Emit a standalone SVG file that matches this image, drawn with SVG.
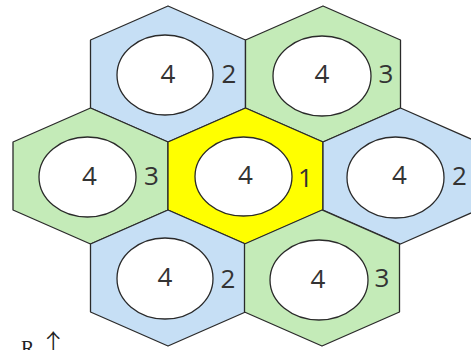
<svg xmlns="http://www.w3.org/2000/svg" width="471" height="350" viewBox="0 0 471 350">
<style>
.hex{stroke:#2a2a2a;stroke-width:1.3;stroke-linejoin:round}
.blue{fill:#c6dff5}
.green{fill:#c4ebb8}
.yellow{fill:#ffff00}
.ell{fill:#ffffff;stroke:#2a2a2a;stroke-width:1.3}
.num{font-family:"Open Sans","Noto Sans",sans-serif;font-size:26px;fill:#333;text-anchor:middle}
.lab{font-family:"Open Sans","Noto Sans",sans-serif;font-size:26px;fill:#333;text-anchor:middle}
.note{font-family:"Liberation Serif","DejaVu Serif",serif;font-size:20px;fill:#222}
</style>
<defs>
<polygon id="hx" points="0,-68 77.5,-34 77.5,34 0,68 -77.5,34 -77.5,-34"/>
</defs>
<rect width="471" height="350" fill="#ffffff"/>
<g id="hex-top-left" transform="translate(168,74)">
<use href="#hx" class="hex blue"/>
<ellipse class="ell" cx="-3" cy="1" rx="48" ry="40"/>
<text class="num" x="0" y="9">4</text>
<text class="lab" x="61" y="9">2</text>
</g>
<g id="hex-top-right" transform="translate(323,74)">
<use href="#hx" class="hex green"/>
<ellipse class="ell" cx="-1" cy="2" rx="49" ry="40"/>
<text class="num" x="-1" y="9">4</text>
<text class="lab" x="63" y="9">3</text>
</g>
<g id="hex-mid-left" transform="translate(90.5,176)">
<use href="#hx" class="hex green"/>
<ellipse class="ell" cx="-3" cy="1" rx="48.5" ry="40"/>
<text class="num" x="-1" y="9">4</text>
<text class="lab" x="61" y="9">3</text>
</g>
<g id="hex-center" transform="translate(245.5,176)">
<use href="#hx" class="hex yellow"/>
<ellipse class="ell" cx="-2" cy="0.5" rx="48.5" ry="39.5"/>
<text class="num" x="0" y="8">4</text>
<text class="lab" x="60" y="11">1</text>
</g>
<g id="hex-mid-right" transform="translate(400.5,176)">
<use href="#hx" class="hex blue"/>
<ellipse class="ell" cx="-5" cy="1.5" rx="48.5" ry="40.5"/>
<text class="num" x="-1" y="8">4</text>
<text class="lab" x="59" y="9">2</text>
</g>
<g id="hex-bottom-left" transform="translate(168,278)">
<use href="#hx" class="hex blue"/>
<ellipse class="ell" cx="-3" cy="0.5" rx="48" ry="40.5"/>
<text class="num" x="-3" y="8">4</text>
<text class="lab" x="60" y="10">2</text>
</g>
<g id="hex-bottom-right" transform="translate(322,278)">
<use href="#hx" class="hex green"/>
<ellipse class="ell" cx="-3" cy="2" rx="49" ry="40"/>
<text class="num" x="-4" y="10">4</text>
<text class="lab" x="60" y="9">3</text>
</g>
<g id="note">
<text class="note" x="21" y="355">R <tspan font-family="'Noto Sans CJK SC', sans-serif" font-size="28" font-weight="300">↑</tspan></text>
</g>
</svg>
